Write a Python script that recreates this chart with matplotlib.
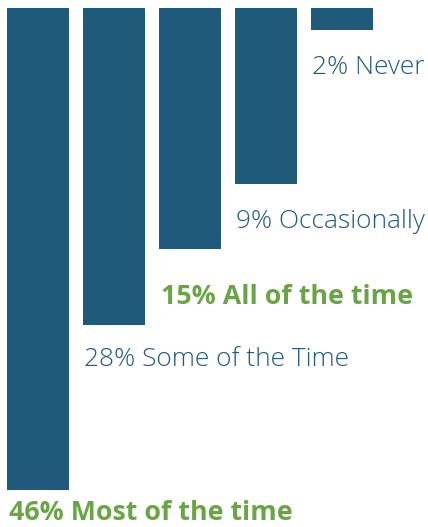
import matplotlib
matplotlib.use("Agg")
import matplotlib.pyplot as plt
import numpy as np

# bar lengths as drawn (not proportional to the percentages in the source graphic)
categories = ["Most of the time", "Some of the Time", "All of the time",
              "Occasionally", "Never"]
percents = [46, 28, 15, 9, 2]
bar_lengths = [482, 317, 241, 176, 22]
highlight = [True, False, True, False, False]

BLUE = "#1f5a7a"
GREEN = "#6aa545"

fig = plt.figure(figsize=(4.28, 5.27), dpi=100)
ax = fig.add_axes([0, 0, 1, 1])
x = np.arange(len(categories))
ax.bar(x, bar_lengths, width=0.815, bottom=0, color=BLUE, align="center")
ax.set_xlim(-0.5, (428 - 38) / 76)
ax.set_ylim(519, -8)
ax.axis("off")

# label gaps below each bar end, in pixels
gaps = [23, 35, 48, 37, 38]
for i, (pct, cat, hl) in enumerate(zip(percents, categories, highlight)):
    txt = f"{pct}% {cat}"
    if hl:
        ax.annotate(txt, (i - 0.41, bar_lengths[i]), xytext=(2, -gaps[i]),
                    textcoords="offset pixels", ha="left", va="center",
                    fontsize=19.3, fontweight="bold", color=GREEN,
                    family="Open Sans")
    else:
        ax.annotate(txt, (i - 0.41, bar_lengths[i]), xytext=(1, -gaps[i]),
                    textcoords="offset pixels", ha="left", va="center",
                    fontsize=18.9, fontweight="light", color=BLUE,
                    family="Open Sans")

fig.savefig("out.png", dpi=100)
